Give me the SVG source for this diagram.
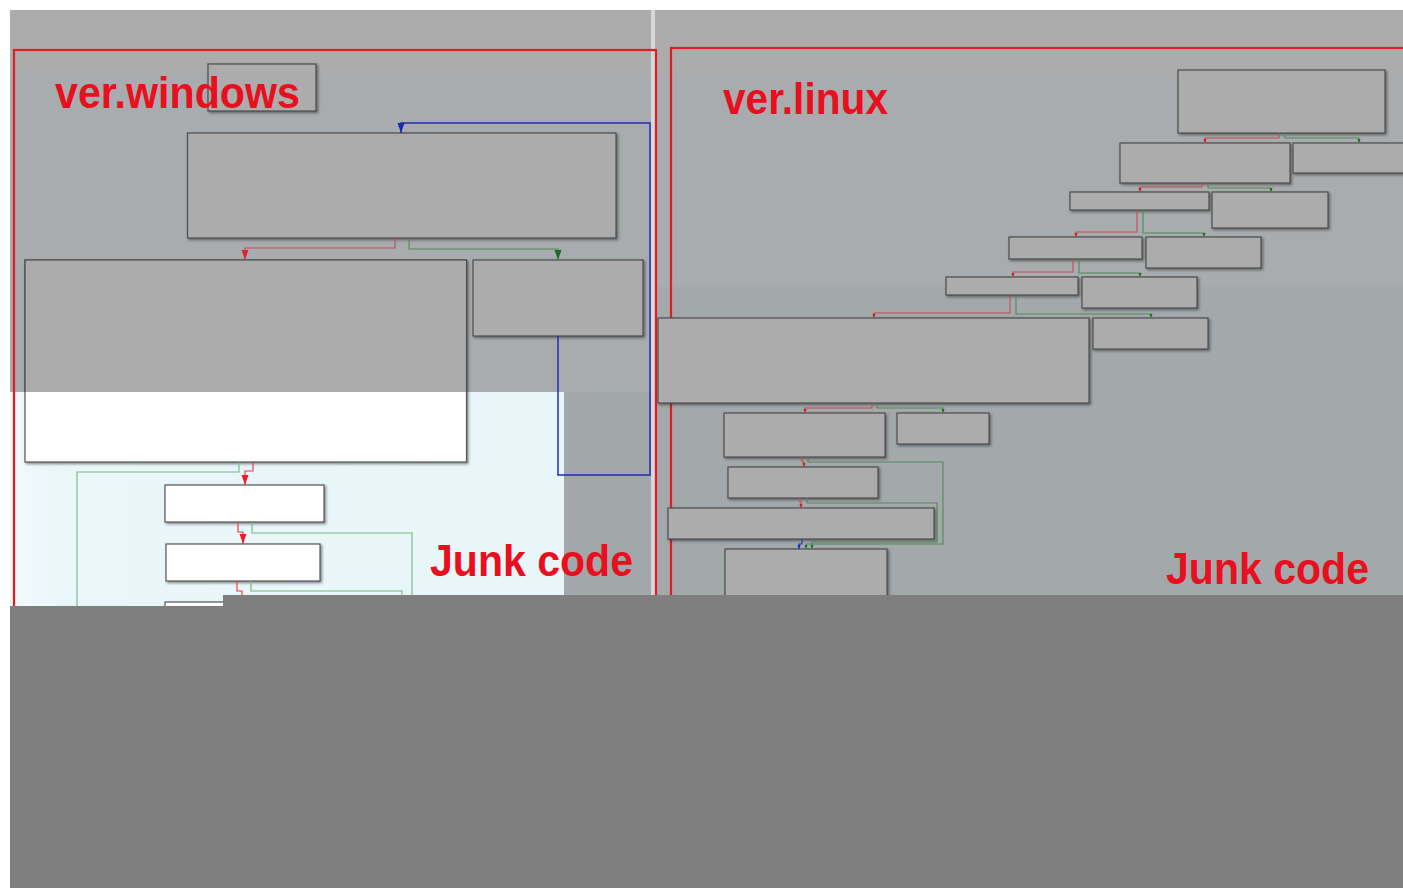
<svg xmlns="http://www.w3.org/2000/svg" width="1403" height="888" viewBox="0 0 1403 888">
  <style>
    .blk { fill: #acacac; stroke: #4d4d4d; stroke-width: 1.2; filter: url(#shadow); }
    .blk-w { fill: #ffffff; stroke: #555555; stroke-width: 1.2; filter: url(#shadow); }
    .frame { fill: none; stroke: #e31b23; stroke-width: 2.2; }
    .e { fill: none; stroke-width: 1.1; stroke-linejoin: miter; }
    .red { stroke: #c94a50; }
    .red-l { stroke: #e8343a; }
    .grn { stroke: #4e8c55; }
    .grn-l { stroke: #74b77e; }
    .blu { stroke: #1f2fb0; stroke-width: 1.5; }
    .lbl { font-family: "Liberation Sans", Arial, sans-serif; font-weight: bold; font-size: 45px; fill: #e8101e; }
  </style>
  <defs>
    <filter id="shadow" x="-5%" y="-5%" width="115%" height="130%">
      <feDropShadow dx="1.5" dy="1.5" stdDeviation="0.8" flood-color="#2a2a2a" flood-opacity="0.55"/>
    </filter>
    <linearGradient id="lightbg" x1="0" y1="0" x2="1" y2="0">
      <stop offset="0" stop-color="#f3f9fb"/>
      <stop offset="0.08" stop-color="#eaf7fa"/>
      <stop offset="1" stop-color="#e8f6f9"/>
    </linearGradient>
    <marker id="aR" markerUnits="userSpaceOnUse" markerWidth="11" markerHeight="8" refX="10" refY="3.5" orient="auto" overflow="visible">
      <path d="M0,0 L10,3.5 L0,7 z" fill="#d42a30"/>
    </marker>
    <marker id="aRl" markerUnits="userSpaceOnUse" markerWidth="11" markerHeight="8" refX="10" refY="3.5" orient="auto" overflow="visible">
      <path d="M0,0 L10,3.5 L0,7 z" fill="#ee1c24"/>
    </marker>
    <marker id="aG" markerUnits="userSpaceOnUse" markerWidth="11" markerHeight="8" refX="10" refY="3.5" orient="auto" overflow="visible">
      <path d="M0,0 L10,3.5 L0,7 z" fill="#1f6b24"/>
    </marker>
    <marker id="aB" markerUnits="userSpaceOnUse" markerWidth="11" markerHeight="8" refX="10" refY="3.5" orient="auto" overflow="visible">
      <path d="M0,0 L10,3.5 L0,7 z" fill="#1a2aa8"/>
    </marker>
    <marker id="sR" markerUnits="userSpaceOnUse" markerWidth="5" markerHeight="4" refX="4" refY="1.5" orient="auto" overflow="visible">
      <path d="M0,0 L4,1.5 L0,3 z" fill="#c41e25"/>
    </marker>
    <marker id="sG" markerUnits="userSpaceOnUse" markerWidth="5" markerHeight="4" refX="4" refY="1.5" orient="auto" overflow="visible">
      <path d="M0,0 L4,1.5 L0,3 z" fill="#1e6a24"/>
    </marker>
    <marker id="sB" markerUnits="userSpaceOnUse" markerWidth="5" markerHeight="4" refX="4" refY="1.5" orient="auto" overflow="visible">
      <path d="M0,0 L4,1.5 L0,3 z" fill="#1a2ac0"/>
    </marker>
  </defs>

  <!-- page and canvas backgrounds -->
  <rect x="0" y="0" width="1403" height="888" fill="#ffffff"/>
  <rect x="10" y="10" width="1393" height="585" fill="#a8acae"/>
  <rect x="10" y="10" width="1393" height="65" fill="#acacac"/>
  <rect x="656" y="287" width="747" height="308" fill="#a3a8ab"/>
  <rect x="564" y="392" width="88" height="214" fill="#a2a7aa"/>
  <rect x="10" y="392" width="554" height="214" fill="url(#lightbg)"/>
  <rect x="651" y="10" width="4" height="585" fill="#d6d8da"/>

  <!-- panel frames -->
  <rect class="frame" x="14" y="50" width="642" height="600"/>
  <rect class="frame" x="671" y="48" width="760" height="600"/>

  <!-- windows build graph -->
  <g id="w-entry"><rect class="blk" x="208" y="64" width="108" height="47"/></g>
  <g id="w-loop-head"><rect class="blk" x="187.5" y="133" width="428.5" height="105"/></g>
  <g id="w-body">
    <rect x="25" y="260" width="441.5" height="202" fill="#ffffff" stroke="#555555" stroke-width="1.2" filter="url(#shadow)"/>
    <rect x="25.6" y="260.6" width="440.3" height="131.4" fill="#acacac"/>
    <path d="M25,392 V260 H466.5 V392" fill="none" stroke="#4d4d4d" stroke-width="1.2"/>
  </g>
  <g id="w-latch"><rect class="blk" x="473" y="260" width="170" height="76"/></g>
  <g id="w-junk1"><rect class="blk-w" x="165" y="485" width="159" height="37"/></g>
  <g id="w-junk2"><rect class="blk-w" x="166" y="544" width="154" height="37"/></g>
  <g id="w-junk3"><rect class="blk-w" x="165" y="602" width="60" height="20"/></g>

  <!-- linux build graph -->
  <g id="l-b1"><rect class="blk" x="1178" y="70" width="207" height="63"/></g>
  <g id="l-b2"><rect class="blk" x="1120" y="143" width="170" height="40"/></g>
  <g id="l-b3"><rect class="blk" x="1293" y="143" width="120" height="30"/></g>
  <g id="l-b4"><rect class="blk" x="1070" y="192" width="139" height="18"/></g>
  <g id="l-b5"><rect class="blk" x="1212" y="192" width="116" height="36"/></g>
  <g id="l-b6"><rect class="blk" x="1009" y="237" width="133" height="22"/></g>
  <g id="l-b7"><rect class="blk" x="1146" y="237" width="115" height="31"/></g>
  <g id="l-b8"><rect class="blk" x="946" y="277" width="132" height="18"/></g>
  <g id="l-b9"><rect class="blk" x="1082" y="277" width="115" height="31"/></g>
  <g id="l-b10"><rect class="blk" x="658" y="318" width="431" height="85"/></g>
  <g id="l-b11"><rect class="blk" x="1093" y="318" width="115" height="31"/></g>
  <g id="l-b12"><rect class="blk" x="724" y="413" width="161" height="44"/></g>
  <g id="l-b13"><rect class="blk" x="897" y="413" width="92" height="31"/></g>
  <g id="l-b14"><rect class="blk" x="728" y="467" width="150" height="31"/></g>
  <g id="l-b15"><rect class="blk" x="668" y="508" width="266" height="31"/></g>
  <g id="l-b16"><rect class="blk" x="725" y="549" width="162" height="60"/></g>

  <!-- connectors -->
  <g id="edges">
    <polyline class="e blu" points="558,336 558,475 650,475 650,123 401,123 401,133" marker-end="url(#aB)"/>
    <polyline class="e red" points="395,238 395,248 245,248 245,260" marker-end="url(#aR)"/>
    <polyline class="e grn" points="409,238 409,249 558,249 558,260" marker-end="url(#aG)"/>
    <polyline class="e grn-l" points="239,462 239,472 77,472 77,606"/>
    <polyline class="e red-l" points="253,462 253,471 245,471 245,485" marker-end="url(#aRl)"/>
    <polyline class="e red-l" points="238,522 238,532 243,532 243,544" marker-end="url(#aRl)"/>
    <polyline class="e grn-l" points="252,522 252,533 412,533 412,606"/>
    <polyline class="e red-l" points="237,581 237,591 242,591 242,602"/>
    <polyline class="e grn-l" points="251,581 251,591 402,591 402,606"/>

    <polyline class="e red" points="1279,133 1279,138 1205,138 1205,143" marker-end="url(#sR)"/>
    <polyline class="e grn" points="1285,133 1285,138 1359,138 1359,143" marker-end="url(#sG)"/>
    <polyline class="e red" points="1202,183 1202,187 1140,187 1140,192" marker-end="url(#sR)"/>
    <polyline class="e grn" points="1208,183 1208,188 1271,188 1271,192" marker-end="url(#sG)"/>
    <polyline class="e red" points="1137,210 1137,232 1076,232 1076,237" marker-end="url(#sR)"/>
    <polyline class="e grn" points="1143,210 1143,233 1204,233 1204,237" marker-end="url(#sG)"/>
    <polyline class="e red" points="1073,259 1073,272 1013,272 1013,277" marker-end="url(#sR)"/>
    <polyline class="e grn" points="1079,259 1079,273 1140,273 1140,277" marker-end="url(#sG)"/>
    <polyline class="e red" points="1010,295 1010,313 874,313 874,318" marker-end="url(#sR)"/>
    <polyline class="e grn" points="1016,295 1016,314 1151,314 1151,318" marker-end="url(#sG)"/>
    <polyline class="e red" points="872,403 872,408 805,408 805,413" marker-end="url(#sR)"/>
    <polyline class="e grn" points="877,403 877,408 943,408 943,413" marker-end="url(#sG)"/>
    <polyline class="e red" points="802,457 802,462 804,462 804,467" marker-end="url(#sR)"/>
    <polyline class="e grn" points="808,457 808,462 943,462 943,544 806,544 806,549" marker-end="url(#sG)"/>
    <polyline class="e red" points="800,498 800,502 801,502 801,508" marker-end="url(#sR)"/>
    <polyline class="e grn" points="807,498 807,503 937,503 937,542 812,542 812,549" marker-end="url(#sG)"/>
    <polyline class="e blu" points="802,539 802,544 799,544 799,549" marker-end="url(#sB)" style="stroke-width:1.1"/>
  </g>

  <!-- labels -->
  <text class="lbl" x="55" y="108" textLength="245" lengthAdjust="spacingAndGlyphs">ver.windows</text>
  <text class="lbl" x="723" y="114" textLength="165" lengthAdjust="spacingAndGlyphs">ver.linux</text>
  <text class="lbl" x="430" y="576" textLength="203" lengthAdjust="spacingAndGlyphs">Junk code</text>
  <text class="lbl" x="1166" y="584" textLength="203" lengthAdjust="spacingAndGlyphs">Junk code</text>

  <!-- lower masked area -->
  <polygon points="10,606 223,606 223,595 1403,595 1403,888 10,888" fill="#7f7f7f"/>
</svg>
